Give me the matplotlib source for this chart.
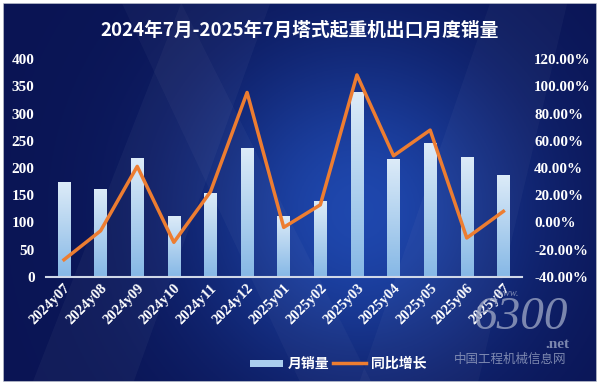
import numpy as np
import matplotlib
matplotlib.use("Agg")
import matplotlib.pyplot as plt
from matplotlib.patches import Rectangle, Polygon
from matplotlib.lines import Line2D
from matplotlib.legend_handler import HandlerBase

plt.rcParams['font.family'] = ['Liberation Serif', 'Noto Sans CJK SC', 'DejaVu Sans']

# data
months = ['2024y07', '2024y08', '2024y09', '2024y10', '2024y11', '2024y12',
          '2025y01', '2025y02', '2025y03', '2025y04', '2025y05', '2025y06', '2025y07']
sales = [174, 161, 218, 112, 154, 236, 112, 139, 340, 216, 246, 220, 187]
yoy = [-27.5, -6.2, 41.2, -14.7, 22.5, 95.6, -3.7, 12.9, 108.5, 49.0, 67.9, -11.5, 8.1]

title = '2024年7月-2025年7月塔式起重机出口月度销量'

fig = plt.figure(figsize=(6, 3.89), dpi=100)
fig.patch.set_facecolor('white')

# background panel with a soft blue gradient
bg = fig.add_axes([3/600, 7/389, 594/600, 379/389])
bg.set_axis_off()
gx, gy = np.meshgrid(np.linspace(0, 1, 300), np.linspace(0, 1, 200))
glow = np.exp(-((gx - 0.6)**2 / 0.08 + (gy - 0.45)**2 / 0.2))
dark = np.array([0.04, 0.08, 0.33])
light = np.array([0.12, 0.28, 0.68])
img = dark + glow[..., None] * (light - dark)
bg.imshow(img, extent=[0, 1, 0, 1], aspect='auto', origin='lower')
# faint diagonal streaks
for pts, a in [([(0.05, 0), (0.22, 0), (0.45, 1), (0.3, 1)], 0.035),
               ([(0.5, 0), (0.62, 0), (0.3, 1), (0.2, 1)], 0.03),
               ([(0.6, 0), (0.8, 0), (0.95, 1), (0.82, 1)], 0.03)]:
    bg.add_patch(Polygon(pts, closed=True, color='white', alpha=a, lw=0))
bg.add_patch(Rectangle((0, 0), 1, 1, fill=False, ec='#c8ccd6', lw=1.2))
bg.set_xlim(0, 1)
bg.set_ylim(0, 1)

ax = fig.add_axes([45.7/600, 1 - 276.7/389, 476/600, 217.4/389])
ax.patch.set_alpha(0)
x = np.arange(len(months))
bw = 0.34
bars = ax.bar(x, sales, width=bw, color='none', zorder=2)

# gradient fill for each bar
grad = np.linspace(0, 1, 100)[:, None]
cmap = matplotlib.colors.LinearSegmentedColormap.from_list('b', ['#86b8e6', '#dcebf8'])
for b in bars:
    im = ax.imshow(grad, extent=[b.get_x(), b.get_x() + b.get_width(), 0, b.get_height()],
                   origin='lower', aspect='auto', cmap=cmap, zorder=2)
    im.set_clip_path(b)

ax.set_xlim(-0.5, len(months) - 0.5)
ax.set_ylim(0, 400)
ax.set_yticks(range(0, 401, 50))
for s in ['top', 'right', 'left']:
    ax.spines[s].set_visible(False)
ax.spines['bottom'].set_color('#d0d8e8')
ax.spines['bottom'].set_linewidth(1.5)
ax.tick_params(length=0, colors='white', labelsize=11)
ax.tick_params(axis='y', pad=8)
ax.set_xticks(x)
ax.set_xticklabels(months, rotation=45, ha='right', va='top', rotation_mode='anchor',
                   fontsize=10.5, fontweight='bold', color='white')
for t in ax.get_yticklabels():
    t.set_fontweight('bold')

ax2 = ax.twinx()
ax2.set_ylim(-40, 120)
ax2.set_yticks(range(-40, 121, 20))
ax2.set_yticklabels(['%.2f%%' % v for v in range(-40, 121, 20)])
for s in ax2.spines.values():
    s.set_visible(False)
ax2.tick_params(length=0, colors='white', labelsize=10.8, pad=9)
for t in ax2.get_yticklabels():
    t.set_fontweight('bold')
ax2.plot(x, yoy, color='#ed7d31', lw=2.5, zorder=3)

fig.text(0.5, 1 - 30/389, title, ha='center', va='center', color='white',
         fontsize=13.5, fontweight='bold', family=['Noto Sans CJK SC'])

# watermark
fig.text(520/600, 1 - 318/389, '6300', ha='center', va='center', color='#98a2c2',
         fontsize=34, style='italic', alpha=0.8)
fig.text(508/600, 1 - 294/389, 'www.', ha='center', va='center', color='#98a2c2',
         fontsize=7.5, style='italic', alpha=0.8)
fig.text(570/600, 1 - 345/389, '.net', ha='right', va='center', color='#98a2c2',
         fontsize=11, fontweight='bold', alpha=0.8)
fig.text(510/600, 1 - 359/389, '中国工程机械信息网', ha='center', va='center',
         color='#98a2c2', fontsize=9, alpha=0.8, family=['Noto Sans CJK SC'])


class GradHandler(HandlerBase):
    def create_artists(self, legend, orig, xd, yd, w, h, fs, trans):
        r = Rectangle((xd, yd + h * 0.15), w, h * 0.7, fc='#a9cdee', ec='none', transform=trans)
        return [r]


h1 = Rectangle((0, 0), 1, 1, fc='#a9cdee')
h2 = Line2D([], [], color='#ed7d31', lw=2.5)
leg = fig.legend([h1, h2], ['月销量', '同比增长'], loc='center', ncol=2,
                 bbox_to_anchor=(338/600, 1 - 364/389), frameon=False,
                 handler_map={Rectangle: GradHandler()}, handlelength=2.4,
                 columnspacing=0.3, handletextpad=0.3,
                 prop={'family': ['Noto Sans CJK SC'], 'weight': 'bold', 'size': 10})
for t in leg.get_texts():
    t.set_color('white')

fig.savefig('out.png', dpi=100, facecolor='white')
